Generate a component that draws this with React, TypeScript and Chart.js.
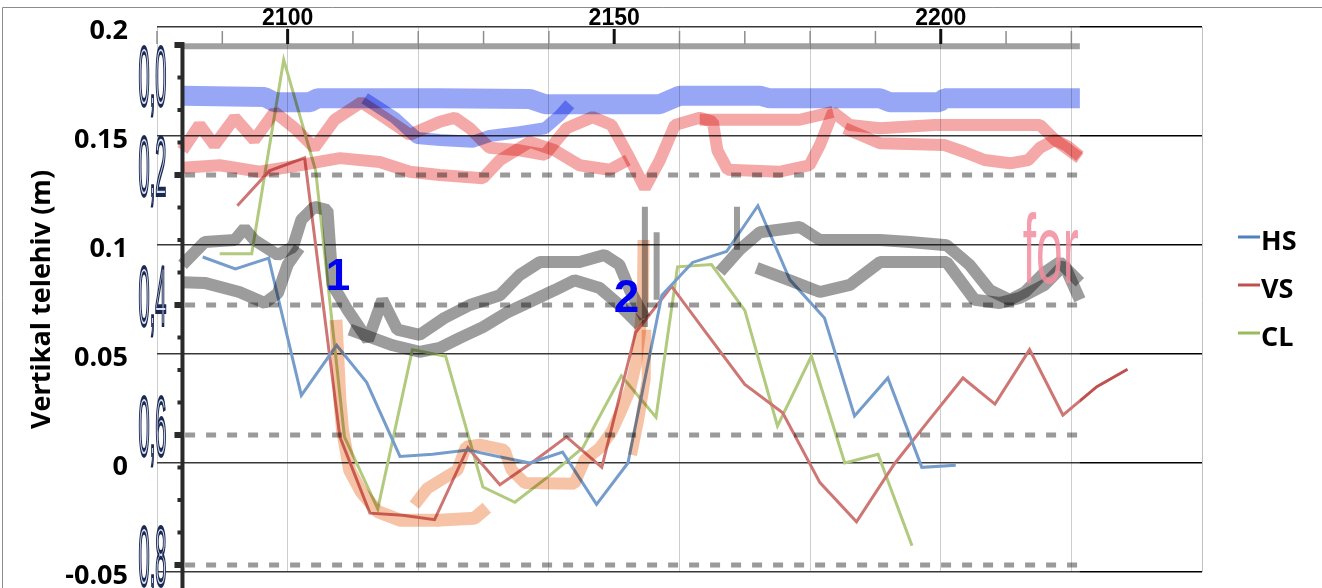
import React, { useEffect, useRef } from "react";
import { Chart, registerables } from "chart.js";

Chart.register(...registerables);

// ---------- main chart axes ----------
const X_MIN = 2080;
const X_MAX = 2240;
const X_GRID_STEP = 20;
const Y_MIN = -0.05;
const Y_MAX = 0.2;
const Y_STEP = 0.05;
const Y_TITLE = "Vertikal telehiv (m)";

// ---------- series (x = chainage, y = vertical heave in m) ----------
const SERIES_NAMES = ["HS", "VS", "CL"];
const SERIES_COLORS = ["#4F81BD", "#C0504D", "#9BBB59"];

const HS_X = [2087.0, 2092.0, 2097.1, 2102.1, 2107.5, 2112.1, 2117.2, 2122.2, 2127.6, 2132.2, 2137.1, 2142.1, 2147.3, 2152.1, 2157.3, 2162.0, 2167.2, 2172.0, 2176.9, 2182.2, 2186.8, 2191.9, 2197.1, 2202.3];
const HS_Y = [0.0945, 0.089, 0.094, 0.031, 0.054, 0.037, 0.003, 0.004, 0.006, 0.003, 0.0, 0.005, -0.019, 0.0, 0.077, 0.092, 0.097, 0.118, 0.084, 0.0665, 0.0216, 0.039, -0.002, -0.001];

const VS_X = [2092.3, 2097.2, 2102.6, 2108.0, 2112.6, 2117.6, 2122.5, 2127.6, 2132.5, 2137.8, 2142.7, 2148.1, 2153.3, 2158.8, 2164.0, 2170.0, 2175.8, 2181.5, 2187.1, 2193.0, 2198.3, 2203.4, 2208.3, 2213.6, 2218.7, 2223.9, 2228.6];
const VS_Y = [0.118, 0.134, 0.14, 0.012, -0.023, -0.024, -0.026, 0.007, -0.01, 0.001, 0.012, -0.002, 0.06, 0.081, 0.06, 0.036, 0.023, -0.009, -0.027, 0.0, 0.02, 0.039, 0.027, 0.052, 0.022, 0.035, 0.043];

const CL_X = [2089.6, 2094.5, 2099.4, 2104.3, 2108.7, 2113.8, 2119.1, 2124.2, 2129.9, 2134.8, 2140.0, 2145.2, 2151.1, 2156.4, 2159.7, 2164.9, 2170.0, 2175.0, 2180.2, 2185.3, 2190.4, 2195.6];
const CL_Y = [0.096, 0.096, 0.185, 0.134, 0.012, -0.021, 0.052, 0.049, -0.011, -0.018, -0.006, 0.007, 0.04, 0.021, 0.09, 0.091, 0.07, 0.017, 0.049, 0.0, 0.004, -0.038];

// ---------- pasted profile overlay (x = chainage, y = depth) ----------
const DEPTH_MIN = -0.0277;
const DEPTH_MAX = 0.8108;
const OVERLAY_KM = [2083.9, 2221.3];
const TOP_TICKS = [2080, 2090, 2100, 2110, 2120, 2130, 2140, 2150, 2160, 2170, 2180, 2190, 2200, 2210, 2220];
const TOP_LABELS = [2100, 2150, 2200];
const DEPTH_TICKS = [0, 0.05, 0.1, 0.15, 0.2, 0.25, 0.3, 0.35, 0.4, 0.45, 0.5, 0.55, 0.6, 0.65, 0.7, 0.75, 0.8];
const DEPTH_LABELS = ["0,0", "0,2", "0,4", "0,6", "0,8"];
const DEPTH_LABEL_AT = [0.092, 0.231, 0.431, 0.631, 0.831];
const DASH_DEPTHS = [0.2, 0.4, 0.6, 0.8];
const MARKERS = [
  { text: "1", km: 2107.7, depth: 0.377, size: 44 },
  { text: "2", km: 2151.9, depth: 0.411, size: 46 },
];
const SIDE_TEXT = { text: "for", km: 2212.55, depth: 0.366 };

const BLUE_A = [[2083.9, 0.078], [2096.5, 0.08], [2098.0, 0.088], [2103.4, 0.088], [2104.6, 0.082], [2123.3, 0.082], [2137.1, 0.083], [2139.4, 0.091], [2157.0, 0.091], [2160.0, 0.078], [2172.3, 0.078], [2173.8, 0.082], [2190.7, 0.082], [2192.2, 0.088], [2199.8, 0.088], [2200.6, 0.082], [2221.3, 0.082]];
const BLUE_B = [[2111.8, 0.082], [2116.4, 0.112], [2119.8, 0.143], [2123.3, 0.146], [2128.3, 0.149], [2130.9, 0.14], [2135.5, 0.134], [2139.4, 0.128], [2141.7, 0.108], [2143.2, 0.091]];
const PINK_A = [[2083.9, 0.162], [2086.5, 0.123], [2088.8, 0.154], [2091.9, 0.112], [2094.9, 0.146], [2098.0, 0.103], [2101.1, 0.128], [2104.1, 0.158], [2107.2, 0.115], [2111.3, 0.088], [2114.9, 0.112], [2118.7, 0.138], [2123.3, 0.118], [2125.6, 0.112], [2127.9, 0.128], [2130.9, 0.158], [2135.5, 0.162], [2139.4, 0.169], [2142.7, 0.128], [2146.7, 0.111], [2149.6, 0.123], [2152.1, 0.169], [2154.7, 0.22], [2157.0, 0.177], [2159.3, 0.123], [2163.1, 0.112], [2165.1, 0.118], [2165.8, 0.162], [2167.4, 0.192], [2175.3, 0.195], [2179.9, 0.185], [2181.5, 0.154], [2183.5, 0.103], [2186.1, 0.123], [2190.7, 0.128], [2199.1, 0.123], [2215.2, 0.123], [2217.5, 0.146], [2221.3, 0.174]];
const PINK_B = [[2083.9, 0.189], [2089.6, 0.185], [2095.7, 0.195], [2101.8, 0.185], [2108.0, 0.174], [2114.1, 0.18], [2118.7, 0.195], [2123.3, 0.2], [2129.9, 0.205], [2132.5, 0.177], [2137.1, 0.149], [2140.9, 0.162], [2144.7, 0.185], [2149.3, 0.192], [2152.1, 0.177]];
const PINK_C = [[2163.1, 0.115], [2178.4, 0.115], [2183.5, 0.103]];
const PINK_D = [[2185.3, 0.128], [2190.7, 0.151], [2200.6, 0.154], [2203.7, 0.165], [2206.7, 0.177], [2210.6, 0.182], [2213.4, 0.177], [2215.2, 0.158], [2217.5, 0.146], [2219.3, 0.155], [2221.3, 0.171]];
const GRAY_A = [[2083.9, 0.338], [2087.3, 0.303], [2091.9, 0.3], [2093.4, 0.282], [2094.9, 0.3], [2098.5, 0.323], [2100.8, 0.311], [2102.1, 0.269], [2104.1, 0.249], [2106.1, 0.254], [2106.9, 0.369], [2109.2, 0.408], [2112.3, 0.454], [2114.5, 0.392], [2116.8, 0.438], [2120.2, 0.446], [2124.0, 0.42], [2127.9, 0.4], [2132.5, 0.385], [2135.5, 0.354], [2138.6, 0.334], [2144.7, 0.334], [2148.5, 0.323], [2150.8, 0.338], [2152.4, 0.377], [2154.7, 0.42]];
const GRAY_B = [[2083.9, 0.365], [2087.3, 0.366], [2092.6, 0.38], [2096.5, 0.397], [2098.5, 0.382], [2100.0, 0.338], [2101.8, 0.312]];
const GRAY_C = [[2109.5, 0.438], [2116.1, 0.462], [2120.2, 0.472], [2123.3, 0.466], [2126.3, 0.451], [2129.9, 0.434], [2133.5, 0.412], [2137.1, 0.395], [2140.9, 0.377], [2143.9, 0.362], [2147.8, 0.374], [2150.8, 0.4], [2153.9, 0.431]];
const GRAY_D = [[2166.2, 0.349], [2169.2, 0.315], [2172.3, 0.288], [2178.4, 0.28], [2181.5, 0.3], [2186.1, 0.3], [2190.7, 0.3], [2195.3, 0.303], [2200.9, 0.308], [2204.4, 0.338], [2207.5, 0.377], [2210.6, 0.392], [2212.9, 0.38], [2216.0, 0.349], [2218.2, 0.334], [2221.3, 0.365]];
const GRAY_E = [[2171.8, 0.343], [2176.9, 0.362], [2181.5, 0.38], [2186.1, 0.369], [2190.7, 0.334], [2200.9, 0.334], [2205.2, 0.392], [2209.0, 0.397], [2212.1, 0.389], [2215.9, 0.369], [2218.9, 0.338], [2221.3, 0.392]];
const GRAY_SPIKES = [[[2154.7, 0.249], [2154.7, 0.434]], [[2156.5, 0.288], [2156.5, 0.392]], [[2168.8, 0.249], [2168.8, 0.315]]];
const SALMON_A = [[2107.4, 0.423], [2108.0, 0.546], [2108.4, 0.592], [2109.5, 0.654], [2111.3, 0.688], [2113.8, 0.718], [2117.2, 0.731], [2123.3, 0.731], [2128.6, 0.728], [2130.5, 0.712]];
const SALMON_B = [[2119.4, 0.708], [2121.4, 0.682], [2124.0, 0.666], [2126.0, 0.654], [2127.3, 0.618], [2129.4, 0.615], [2133.2, 0.623], [2134.3, 0.654], [2136.3, 0.674], [2143.9, 0.675], [2145.5, 0.638], [2147.8, 0.62], [2149.6, 0.595], [2151.1, 0.562], [2152.4, 0.531], [2153.3, 0.492], [2153.9, 0.446], [2154.4, 0.392], [2154.5, 0.3]];
const SALMON_C = [[2155.0, 0.438], [2154.9, 0.515], [2153.9, 0.577], [2152.8, 0.631]];

const toPts = (xs: number[], ys: number[]) => xs.map((x, i) => ({ x, y: ys[i] }));
const pairPts = (arr: number[][]) => arr.map(([x, y]) => ({ x, y }));

function band(data: number[][], color: string, width: number, extra: any = {}) {
  return {
    label: "",
    data: pairPts(data),
    yAxisID: "y2",
    borderColor: color,
    backgroundColor: color,
    borderWidth: width,
    pointRadius: 0,
    borderJoinStyle: "bevel",
    borderCapStyle: "butt",
    tension: 0,
    order: 1,
    overlay: true,
    ...extra,
  };
}

function stretched(ctx: CanvasRenderingContext2D, text: string, x: number, y: number, sx: number, sy: number, font: string, align: CanvasTextAlign, fill: string, stroke?: string, lw?: number) {
  ctx.save();
  ctx.translate(x, y);
  ctx.scale(sx, sy);
  ctx.font = font;
  ctx.textAlign = align;
  ctx.textBaseline = "alphabetic";
  ctx.fillStyle = fill;
  ctx.fillText(text, 0, 0);
  if (stroke) {
    ctx.strokeStyle = stroke;
    ctx.lineWidth = lw || 1;
    ctx.strokeText(text, 0, 0);
  }
  ctx.restore();
}

const overlayPlugin = {
  id: "profileOverlay",
  beforeDatasetsDraw(chart: any) {
    chart.$veilDone = false;
  },
  beforeDatasetDraw(chart: any, args: any) {
    const ds = chart.data.datasets[args.index];
    if (!ds.overlay) return;
    const ctx = chart.ctx;
    if (!chart.$veilDone) {
      chart.$veilDone = true;
      const right = chart.scales.x.getPixelForValue(OVERLAY_KM[1]);
      const left = chart.chartArea.left - 17;
      ctx.save();
      ctx.fillStyle = "rgba(255,255,255,0.22)";
      ctx.fillRect(left, 8, right - left, chart.height - 8);
      ctx.restore();
    }
    ctx.globalCompositeOperation = "multiply";
  },
  afterDatasetDraw(chart: any, args: any) {
    const ds = chart.data.datasets[args.index];
    if (ds.overlay) chart.ctx.globalCompositeOperation = "source-over";
  },
  afterDraw(chart: any) {
    const ctx: CanvasRenderingContext2D = chart.ctx;
    const xs = chart.scales.x;
    const ds = chart.scales.y2;
    const axisX = xs.getPixelForValue(OVERLAY_KM[0]);
    const topY = ds.getPixelForValue(0);

    ctx.save();
    // top chainage ticks
    TOP_TICKS.forEach((k) => {
      const px = xs.getPixelForValue(k);
      const major = TOP_LABELS.indexOf(k) >= 0;
      ctx.strokeStyle = major ? "#111" : "#8d8d8d";
      ctx.lineWidth = major ? 3 : 1.5;
      ctx.beginPath();
      ctx.moveTo(px, major ? topY - 16 : topY - 14);
      ctx.lineTo(px, topY - 1);
      ctx.stroke();
    });
    ctx.fillStyle = "#000";
    ctx.font = 'bold 23px "Liberation Sans", Arial, sans-serif';
    ctx.textAlign = "center";
    ctx.textBaseline = "alphabetic";
    TOP_LABELS.forEach((k) => {
      ctx.fillText(String(k), xs.getPixelForValue(k), topY - 20);
    });

    // left depth axis
    ctx.fillStyle = "#2a2a2a";
    ctx.fillRect(axisX - 2, topY - 3, 4, chart.height - topY + 3);
    DEPTH_TICKS.forEach((d) => {
      const py = ds.getPixelForValue(d);
      const major = Math.abs(d / 0.2 - Math.round(d / 0.2)) < 1e-6;
      if (major) ctx.fillRect(axisX - 8, py - 3, 8, 6);
      else ctx.fillRect(axisX - 5, py - 2, 5, 4);
    });
    DEPTH_LABELS.forEach((t, i) => {
      const py = ds.getPixelForValue(DEPTH_LABEL_AT[i]);
      stretched(ctx, t, axisX - 30, py, 1, 4.2, '20px "Liberation Sans", Arial, sans-serif', "center", "#d8e2f4", "#1b2850", 0.9);
    });

    // numbered markers
    MARKERS.forEach((m) => {
      ctx.fillStyle = "#0000f0";
      ctx.font = `bold ${m.size}px "Liberation Sans", Arial, sans-serif`;
      ctx.textAlign = "center";
      ctx.fillText(m.text, xs.getPixelForValue(m.km), ds.getPixelForValue(m.depth));
    });

    // clipped side text
    const right = xs.getPixelForValue(OVERLAY_KM[1]);
    ctx.save();
    ctx.beginPath();
    ctx.rect(0, 0, right, chart.height);
    ctx.clip();
    stretched(ctx, SIDE_TEXT.text, xs.getPixelForValue(SIDE_TEXT.km), ds.getPixelForValue(SIDE_TEXT.depth), 2.4, 4.9, '20px "Liberation Sans", Arial, sans-serif', "left", "rgba(242,140,158,0.85)");
    ctx.restore();

    // legend
    const lx = chart.chartArea.right + 36;
    SERIES_NAMES.forEach((name, i) => {
      const base = 250 + i * 48;
      ctx.strokeStyle = SERIES_COLORS[i];
      ctx.lineWidth = 3;
      ctx.beginPath();
      ctx.moveTo(lx, base - 13);
      ctx.lineTo(lx + 22, base - 13);
      ctx.stroke();
      ctx.fillStyle = "#000";
      ctx.font = 'bold 27px "Open Sans", sans-serif';
      ctx.textAlign = "left";
      ctx.textBaseline = "alphabetic";
      ctx.fillText(name, lx + 23, base);
    });

    // outer frame
    ctx.strokeStyle = "#8c8c8c";
    ctx.lineWidth = 1;
    ctx.beginPath();
    ctx.moveTo(2.5, chart.height);
    ctx.lineTo(2.5, 7.5);
    ctx.lineTo(chart.width, 7.5);
    ctx.stroke();
    ctx.restore();
  },
};

export default function App() {
  const ref = useRef<HTMLCanvasElement>(null);

  useEffect(() => {
    document.body.style.margin = "0";
    const canvas = ref.current;
    if (!canvas) return;

    const mainSets = [
      { name: SERIES_NAMES[0], xs: HS_X, ys: HS_Y, color: SERIES_COLORS[0] },
      { name: SERIES_NAMES[1], xs: VS_X, ys: VS_Y, color: SERIES_COLORS[1] },
      { name: SERIES_NAMES[2], xs: CL_X, ys: CL_Y, color: SERIES_COLORS[2] },
    ].map((s) => ({
      label: s.name,
      data: toPts(s.xs, s.ys),
      yAxisID: "y",
      borderColor: s.color,
      backgroundColor: s.color,
      borderWidth: 3,
      pointRadius: 0,
      tension: 0,
      order: 2,
    }));

    const overlaySets: any[] = [
      band([[OVERLAY_KM[0], 0.002], [OVERLAY_KM[1], 0.002]], "#a0a0a0", 6),
      ...DASH_DEPTHS.map((d) => band([[OVERLAY_KM[0] + 0.4, d], [OVERLAY_KM[1] - 0.3, d]], "#9a9a9a", 5, { borderDash: [10, 11] })),
      band(BLUE_A, "#98a6f6", 20),
      band(BLUE_B, "#98a6f6", 12),
      band(PINK_A, "#f4a8a7", 12),
      band(PINK_B, "#f4a8a7", 12),
      band(PINK_C, "#f4a8a7", 12),
      band(PINK_D, "#f4a8a7", 12),
      band(GRAY_A, "#9c9c9c", 12),
      band(GRAY_B, "#9c9c9c", 12),
      band(GRAY_C, "#9c9c9c", 12),
      band(GRAY_D, "#9c9c9c", 12),
      band(GRAY_E, "#9c9c9c", 12),
      ...GRAY_SPIKES.map((s) => band(s, "#9c9c9c", 6)),
      band(SALMON_A, "#f7c3a6", 13),
      band(SALMON_B, "#f7c3a6", 12),
      band(SALMON_C, "#f7c3a6", 9),
    ];

    const chart = new Chart(canvas, {
      type: "line",
      data: { datasets: [...mainSets, ...overlaySets] as any },
      options: {
        responsive: false,
        animation: false,
        devicePixelRatio: 1,
        layout: { padding: { top: 27, right: 120, bottom: 0, left: 0 } },
        plugins: { legend: { display: false }, tooltip: { enabled: false } },
        scales: {
          x: {
            type: "linear",
            min: X_MIN,
            max: X_MAX,
            ticks: { display: false, stepSize: X_GRID_STEP },
            grid: { color: "#c0c0c0", lineWidth: 1, drawTicks: false },
            border: { display: false },
            afterFit: (s: any) => {
              s.height = 16;
              s.paddingLeft = 0;
              s.paddingRight = 0;
            },
          },
          y: {
            type: "linear",
            min: Y_MIN,
            max: Y_MAX,
            ticks: {
              stepSize: Y_STEP,
              color: "#000",
              padding: 29,
              labelOffset: 4,
              font: { family: '"Open Sans", sans-serif', size: 27, weight: "bold", lineHeight: 1 },
              callback: (v: any) => String(Math.round(Number(v) * 100) / 100),
            },
            grid: { color: "#000", lineWidth: 1.6, drawTicks: false },
            border: { display: false },
            title: {
              display: true,
              text: Y_TITLE,
              color: "#000",
              font: { family: '"Open Sans", sans-serif', size: 27, weight: "bold", lineHeight: 1.2 },
              padding: { top: 26, bottom: 0 },
            },
            afterFit: (s: any) => {
              s.width = 157;
              s.paddingTop = 0;
              s.paddingBottom = 0;
            },
          },
          y2: {
            type: "linear",
            display: false,
            reverse: true,
            min: DEPTH_MIN,
            max: DEPTH_MAX,
          },
        },
      } as any,
      plugins: [overlayPlugin as any],
    });

    return () => chart.destroy();
  }, []);

  return <canvas ref={ref} width={1322} height={588} style={{ display: "block", width: "1322px", height: "588px" }} />;
}
